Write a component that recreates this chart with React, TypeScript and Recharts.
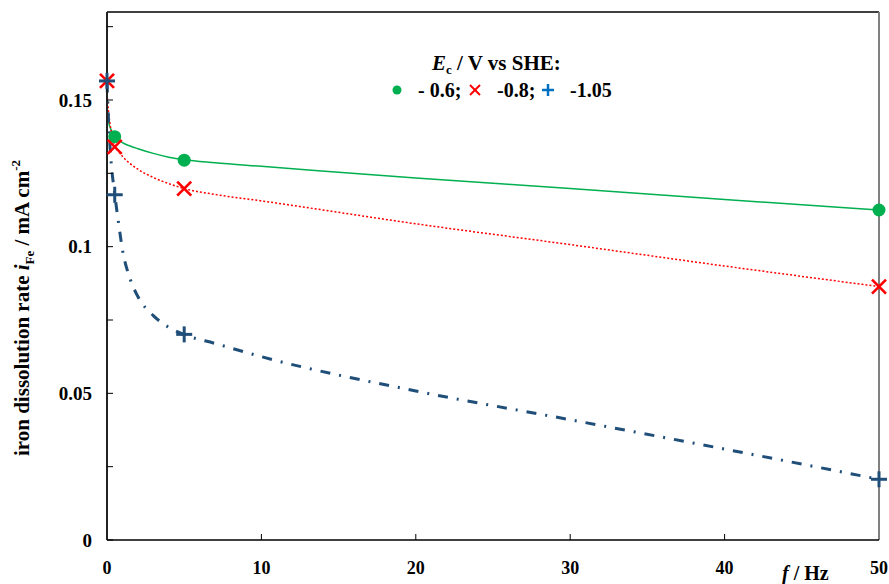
import React from 'react';
import {
  ComposedChart,
  Line,
  Scatter,
  XAxis,
  YAxis,
  ReferenceLine,
} from 'recharts';

// frequencies at which the fitted trend curves are sampled (Hz)
const curveFreqs = [0, 0.1, 0.25, 0.5, 0.75, 1, 1.5, 2, 3, 4, 5, 7, 10, 20, 30, 40, 50];
const curveGreen = [0.146, 0.1425, 0.14, 0.1377, 0.1365, 0.1355, 0.1343, 0.1334, 0.1318, 0.1305, 0.1296, 0.1286, 0.1274, 0.1234, 0.1198, 0.1161, 0.1125];
const curveRed = [0.152, 0.146, 0.14, 0.1345, 0.1325, 0.1308, 0.1283, 0.1264, 0.1236, 0.1215, 0.1198, 0.1178, 0.1156, 0.1078, 0.1007, 0.0934, 0.0864];
const curveBlue = [0.156, 0.143, 0.13, 0.118, 0.108, 0.099, 0.089, 0.083, 0.0765, 0.0725, 0.07, 0.067, 0.0625, 0.0508, 0.041, 0.031, 0.0207];

// measured points
const freqsGreen = [0.5, 5, 50];
const valuesGreen = [0.1375, 0.1295, 0.1125];
const freqsRed = [0, 0.5, 5, 50];
const valuesRed = [0.1565, 0.134, 0.1198, 0.0864];
const freqsBlue = [0, 0.5, 5, 50];
const valuesBlue = [0.1565, 0.1177, 0.0701, 0.0207];

const xTicks = [0, 10, 20, 30, 40, 50];
const yTicks = [0, 0.025, 0.05, 0.075, 0.1, 0.125, 0.15, 0.175];
const yLabels: Record<number, string> = { 0: '0', 0.05: '0.05', 0.1: '0.1', 0.15: '0.15' };

const GREEN = '#00b050';
const RED = '#ff0000';
const NAVY = '#1f4e79';
const FONT = '"Liberation Serif", "Times New Roman", serif';

const curveData = curveFreqs.map((f, i) => ({
  f,
  green: curveGreen[i],
  red: curveRed[i],
  blue: curveBlue[i],
}));
const toPoints = (fs: number[], vs: number[]) => fs.map((f, i) => ({ f, v: vs[i] }));

const Dot = ({ cx, cy }: any) => <circle cx={cx} cy={cy} r={6.5} fill={GREEN} />;
const Cross = ({ cx, cy }: any) => (
  <g stroke={RED} strokeWidth={2.6}>
    <line x1={cx - 7} y1={cy - 7} x2={cx + 7} y2={cy + 7} />
    <line x1={cx - 7} y1={cy + 7} x2={cx + 7} y2={cy - 7} />
  </g>
);
const Plus = ({ cx, cy }: any) => (
  <g stroke={NAVY} strokeWidth={3}>
    <line x1={cx - 8} y1={cy} x2={cx + 8} y2={cy} />
    <line x1={cx} y1={cy - 8} x2={cx} y2={cy + 8} />
  </g>
);

const YTick = ({ x, y, payload }: any) => {
  const label = yLabels[payload.value];
  return (
    <g>
      <line x1={x + 15} y1={y} x2={x + 21} y2={y} stroke="#000" strokeWidth={1} />
      {label && (
        <text x={x} y={y} dy="0.35em" textAnchor="end" fontFamily={FONT} fontWeight="bold" fontSize={19} fill="#000">
          {label}
        </text>
      )}
    </g>
  );
};

const XTick = ({ x, y, payload }: any) => (
  <g>
    {payload.value > 0 && payload.value < 50 && (
      <line x1={x} y1={y - 20} x2={x} y2={y - 26} stroke="#000" strokeWidth={1} />
    )}
    <text x={x} y={y + 14} textAnchor="middle" fontFamily={FONT} fontWeight="bold" fontSize={18} fill="#000">
      {payload.value}
    </text>
  </g>
);

export default function App() {
  return (
    <div style={{ position: 'absolute', left: 0, top: 0, width: 889, height: 584, background: '#fff' }}>
      <ComposedChart
        width={889}
        height={584}
        data={curveData}
        margin={{ top: 12, right: 10, left: 0, bottom: 0 }}
      >
        <XAxis
          dataKey="f"
          type="number"
          domain={[0, 50]}
          ticks={xTicks}
          interval={0}
          height={44}
          tickSize={0}
          tickMargin={20}
          tick={<XTick />}
          axisLine={{ stroke: '#000', strokeWidth: 1.5 }}
        />
        <YAxis
          dataKey="v"
          type="number"
          domain={[0, 0.18]}
          ticks={yTicks}
          interval={0}
          width={107}
          tickSize={0}
          tickMargin={15}
          tick={<YTick />}
          axisLine={{ stroke: '#222', strokeWidth: 2 }}
        />
        <ReferenceLine y={0.18} stroke="#000" strokeWidth={1.5} />
        <ReferenceLine x={50} stroke="#808080" strokeWidth={2} />
        <Line dataKey="green" type="monotone" stroke={GREEN} strokeWidth={1.5} dot={false} activeDot={false} isAnimationActive={false} />
        <Line dataKey="red" type="monotone" stroke={RED} strokeWidth={1.5} strokeDasharray="2 2" dot={false} activeDot={false} isAnimationActive={false} />
        <Line dataKey="blue" type="monotone" stroke={NAVY} strokeWidth={3} strokeDasharray="10 9 2 9" dot={false} activeDot={false} isAnimationActive={false} />
        <Scatter data={toPoints(freqsGreen, valuesGreen)} shape={<Dot />} isAnimationActive={false} />
        <Scatter data={toPoints(freqsRed, valuesRed)} shape={<Cross />} isAnimationActive={false} />
        <Scatter data={toPoints(freqsBlue, valuesBlue)} shape={<Plus />} isAnimationActive={false} />
      </ComposedChart>

      {/* axis titles and legend */}
      <svg
        width={889}
        height={584}
        style={{ position: 'absolute', left: 0, top: 0, pointerEvents: 'none' }}
        fontFamily={FONT}
        fontWeight="bold"
        fill="#000"
      >
        <text x={22} y={308} transform="rotate(-90 22 308)" textAnchor="middle" dy="0.35em" fontSize={21}>
          iron dissolution rate <tspan fontStyle="italic">i</tspan>
          <tspan fontSize={13} dy={5}>Fe</tspan>
          <tspan dy={-5}> / mA cm</tspan>
          <tspan fontSize={13} dy={-9}>-2</tspan>
        </text>
        <text x={782} y={580} fontSize={20}>
          <tspan fontStyle="italic">f</tspan> / Hz
        </text>

        <text x={432} y={70} fontSize={21}>
          <tspan fontStyle="italic">E</tspan>
          <tspan fontSize={13} dy={4}>c</tspan>
          <tspan dy={-4}> / V vs SHE:</tspan>
        </text>
        <circle cx={397} cy={90} r={4.5} fill={GREEN} />
        <text x={418} y={97} fontSize={20}>- 0.6;</text>
        <g stroke={RED} strokeWidth={2}>
          <line x1={470} y1={85} x2={480} y2={95} />
          <line x1={470} y1={95} x2={480} y2={85} />
        </g>
        <text x={497} y={97} fontSize={20}>-0.8;</text>
        <g stroke="#0070c0" strokeWidth={2.5}>
          <line x1={542} y1={90} x2={554} y2={90} />
          <line x1={548} y1={84} x2={548} y2={96} />
        </g>
        <text x={570} y={97} fontSize={20}>-1.05</text>
      </svg>
    </div>
  );
}
